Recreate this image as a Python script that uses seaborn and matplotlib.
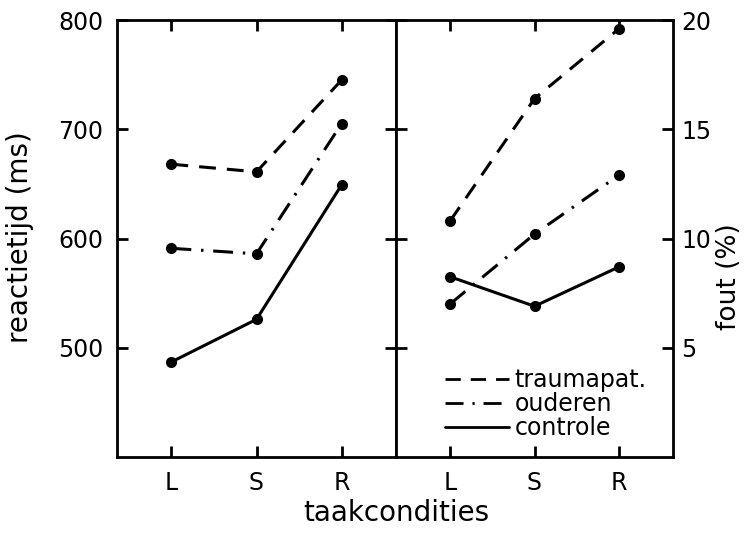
import matplotlib
matplotlib.use("Agg")
import matplotlib.pyplot as plt
import seaborn as sns
import pandas as pd

conditions = ["L", "S", "R"]
groups = ["traumapat.", "ouderen", "controle"]

rt_trauma = [668, 661, 745]
rt_ouderen = [591, 586, 705]
rt_controle = [487, 526, 649]

err_trauma = [10.8, 16.4, 19.6]
err_ouderen = [7.0, 10.2, 12.9]
err_controle = [8.25, 6.9, 8.7]

rt_ticks = [500, 600, 700, 800]
err_ticks = [5, 10, 15, 20]


def long_frame(series):
    rows = []
    for g, vals in zip(groups, series):
        for i, (c, v) in enumerate(zip(conditions, vals)):
            rows.append({"pos": i, "conditie": c, "groep": g, "waarde": v})
    return pd.DataFrame(rows)


rt_df = long_frame([rt_trauma, rt_ouderen, rt_controle])
err_df = long_frame([err_trauma, err_ouderen, err_controle])

sns.set_theme(style="white")
plt.rcParams["font.family"] = ["DejaVu Sans"]
plt.rcParams["text.color"] = "black"

dash_map = {"traumapat.": (5.5, 3.6), "ouderen": (6.5, 3.2, 0.8, 3.2), "controle": ""}
palette = {g: "black" for g in groups}

fig = plt.figure(figsize=(7.44, 5.37), dpi=100)
W, H = 744, 537
ax1 = fig.add_axes([117 / W, 1 - 457 / H, 279 / W, 437 / H])
ax2 = fig.add_axes([396 / W, 1 - 457 / H, 277 / W, 437 / H])

for ax, df in ((ax1, rt_df), (ax2, err_df)):
    sns.lineplot(data=df, x="pos", y="waarde", hue="groep", style="groep",
                 hue_order=groups, style_order=groups, palette=palette,
                 dashes=dash_map, markers={g: "o" for g in groups},
                 markersize=8, markeredgewidth=0, linewidth=2.2,
                 legend=(ax is ax2), ax=ax)
    ax.set_xlim(-0.64, 2.64)
    ax.set_xticks(range(len(conditions)))
    ax.set_xticklabels(conditions)
    ax.set_xlabel("")
    ax.set_ylabel("")
    for s in ax.spines.values():
        s.set_color("black")
        s.set_linewidth(2)
    ax.tick_params(axis="both", which="both", direction="in", length=8,
                   width=2, color="black", labelsize=17, labelcolor="black",
                   top=True, bottom=True, left=True, right=True, pad=10)

ax1.set_ylim(400, 800)
ax1.set_yticks(rt_ticks)

ax2.set_ylim(0, 20)
ax2.set_yticks(err_ticks)
ax2.yaxis.tick_right()
ax2.tick_params(axis="y", left=True, right=True, labelleft=False,
                labelright=True, pad=6)

leg = ax2.legend(loc="lower right", bbox_to_anchor=(0.965, 0.0), frameon=False,
                 fontsize=17, handlelength=2.7, handletextpad=0.25,
                 labelspacing=0.0, borderaxespad=0.3)
for h in leg.get_lines():
    h.set_marker("")
    h.set_linewidth(2)
for t in leg.get_texts():
    t.set_color("black")

fig.text(20 / W, 1 - 237 / H, "reactietijd (ms)", rotation=90, ha="center",
         va="center", fontsize=20)
fig.text(729 / W, 1 - 277 / H, "fout (%)", rotation=90, ha="center",
         va="center", fontsize=19)
fig.text(396 / W, 1 - 513 / H, "taakcondities", ha="center", va="center",
         fontsize=20)

fig.savefig("out.png", dpi=100, facecolor="white")
